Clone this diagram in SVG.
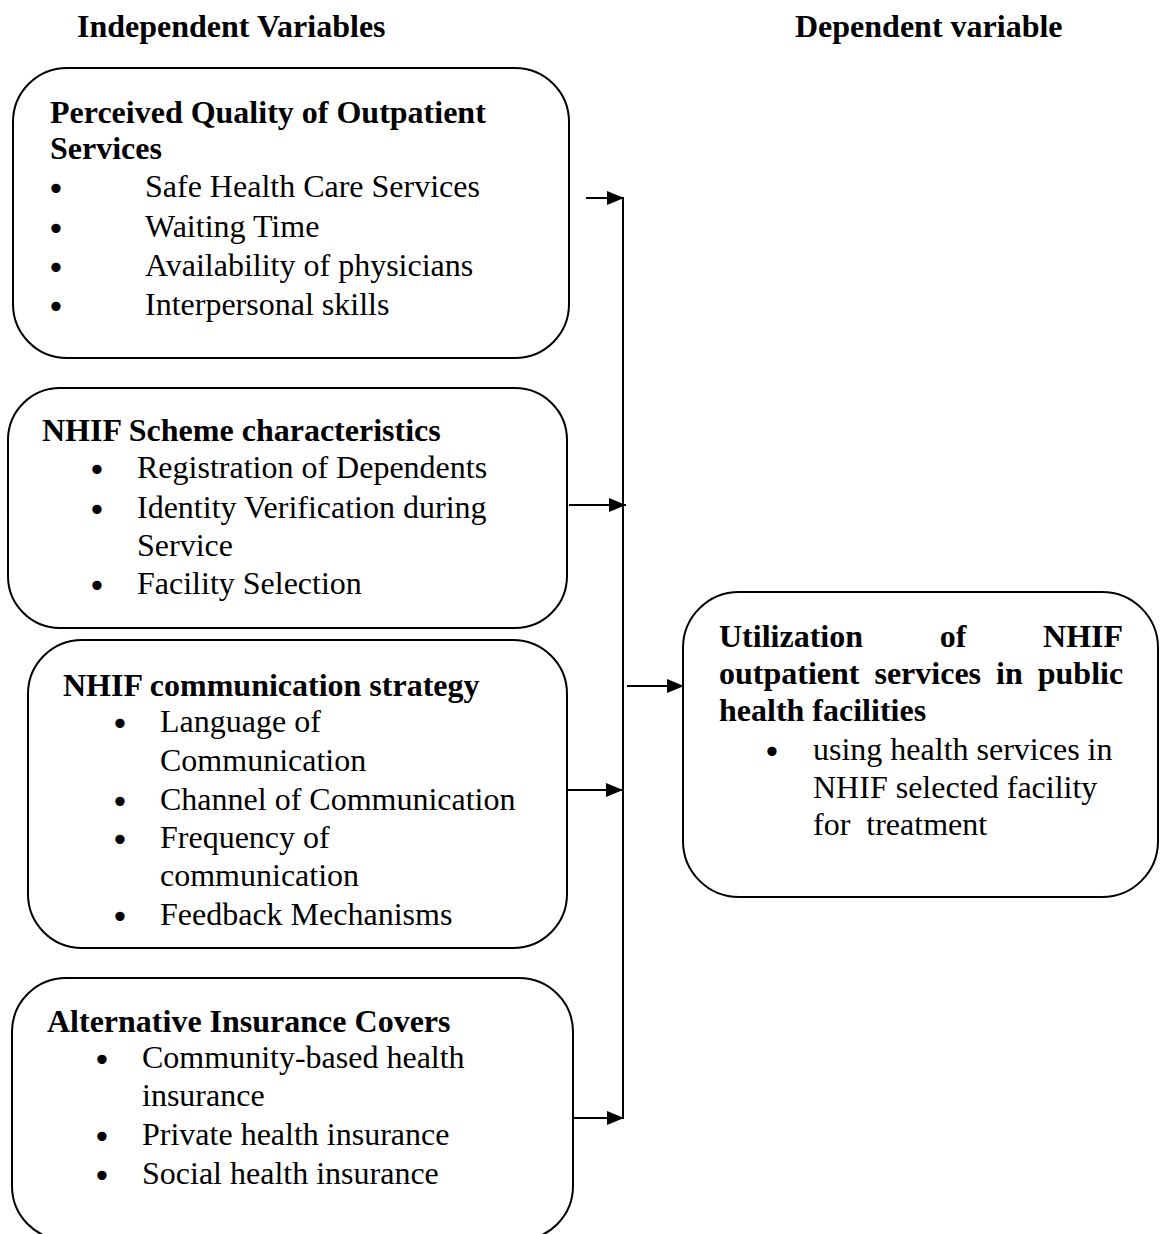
<svg xmlns="http://www.w3.org/2000/svg" width="1162" height="1234" viewBox="0 0 1162 1234">
  <defs>
    <marker id="arrow" viewBox="0 0 17 14" refX="17" refY="7" markerWidth="17" markerHeight="14" markerUnits="userSpaceOnUse" orient="auto">
      <path d="M0,0 L17,7 L0,14 Z" fill="#000"/>
    </marker>
    <style>
      .box { fill: #fff; stroke: #000; stroke-width: 2; }
      .t { font-family: "Liberation Serif", "Times New Roman", serif; font-size: 32px; fill: #000; }
      .b { font-weight: bold; }
      .dot { font-family: "DejaVu Sans", sans-serif; font-size: 32px; fill: #000; text-anchor: middle; }
      .line { stroke: #000; stroke-width: 2; fill: none; }
      .arr { stroke: #000; stroke-width: 2; fill: none; marker-end: url(#arrow); }
    </style>
  </defs>
  <rect width="1162" height="1234" fill="#fff"/>

  <!-- column headings -->
  <text class="t b" x="77" y="37">Independent Variables</text>
  <text class="t b" x="795" y="37">Dependent variable</text>

  <!-- independent variable 1 -->
  <g id="quality">
    <rect class="box" x="13" y="68" width="556" height="290" rx="54" ry="54"/>
    <text class="t b" x="50" y="123">Perceived Quality of Outpatient</text>
    <text class="t b" x="50" y="159">Services</text>
    <text class="dot" x="56" y="200">•</text>
    <text class="dot" x="56" y="240">•</text>
    <text class="dot" x="56" y="279">•</text>
    <text class="dot" x="56" y="318">•</text>
    <text class="t" x="145" y="197">Safe Health Care Services</text>
    <text class="t" x="145" y="237">Waiting Time</text>
    <text class="t" x="145" y="276">Availability of physicians</text>
    <text class="t" x="145" y="315">Interpersonal skills</text>
  </g>

  <!-- independent variable 2 -->
  <g id="scheme">
    <rect class="box" x="8" y="388" width="559" height="240" rx="52" ry="52"/>
    <text class="t b" x="42" y="441">NHIF Scheme characteristics</text>
    <text class="dot" x="97" y="481">•</text>
    <text class="dot" x="97" y="521">•</text>
    <text class="dot" x="97" y="597">•</text>
    <text class="t" x="137" y="478">Registration of Dependents</text>
    <text class="t" x="137" y="518">Identity Verification during</text>
    <text class="t" x="137" y="556">Service</text>
    <text class="t" x="137" y="594">Facility Selection</text>
  </g>

  <!-- independent variable 3 -->
  <g id="communication">
    <rect class="box" x="28" y="640" width="539" height="308" rx="54" ry="54"/>
    <text class="t b" x="63" y="696">NHIF communication strategy</text>
    <text class="dot" x="120" y="735">•</text>
    <text class="dot" x="120" y="813">•</text>
    <text class="dot" x="120" y="851">•</text>
    <text class="dot" x="120" y="928">•</text>
    <text class="t" x="160" y="732">Language of</text>
    <text class="t" x="160" y="771">Communication</text>
    <text class="t" x="160" y="810">Channel of Communication</text>
    <text class="t" x="160" y="848">Frequency of</text>
    <text class="t" x="160" y="886">communication</text>
    <text class="t" x="160" y="925">Feedback Mechanisms</text>
  </g>

  <!-- independent variable 4 -->
  <g id="alternative">
    <rect class="box" x="12" y="978" width="561" height="262" rx="54" ry="54"/>
    <text class="t b" x="47" y="1032">Alternative Insurance Covers</text>
    <text class="dot" x="102" y="1071">•</text>
    <text class="dot" x="102" y="1148">•</text>
    <text class="dot" x="102" y="1187">•</text>
    <text class="t" x="142" y="1068">Community-based health</text>
    <text class="t" x="142" y="1106">insurance</text>
    <text class="t" x="142" y="1145">Private health insurance</text>
    <text class="t" x="142" y="1184">Social health insurance</text>
  </g>

  <!-- dependent variable -->
  <g id="utilization">
    <rect class="box" x="683" y="592" width="475" height="305" rx="56" ry="56"/>
    <text class="t b" x="719" y="647" word-spacing="68.7">Utilization of NHIF</text>
    <text class="t b" x="719" y="684" word-spacing="7">outpatient services in public</text>
    <text class="t b" x="719" y="721">health facilities</text>
    <text class="dot" x="772" y="763">•</text>
    <text class="t" x="813" y="760">using health services in</text>
    <text class="t" x="813" y="798">NHIF selected facility</text>
    <text class="t" x="813" y="835" xml:space="preserve">for  treatment</text>
  </g>

  <!-- connectors -->
  <g id="connectors">
    <line class="line" x1="623" y1="197" x2="623" y2="1119"/>
    <line class="arr" x1="586" y1="198" x2="624" y2="198"/>
    <line class="arr" x1="569" y1="505" x2="626" y2="505"/>
    <line class="arr" x1="567" y1="790" x2="623" y2="790"/>
    <line class="arr" x1="572" y1="1118" x2="624" y2="1118"/>
    <line class="arr" x1="627" y1="686" x2="684" y2="686"/>
  </g>
</svg>
